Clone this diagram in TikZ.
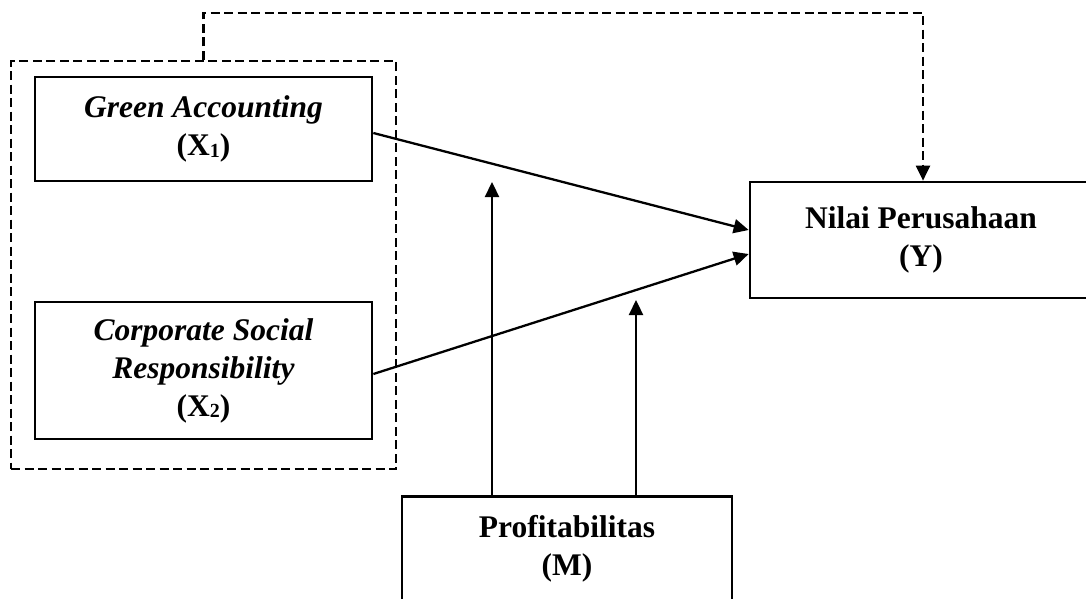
\documentclass[tikz,border=0pt]{standalone}
\usepackage{fontspec}
\setmainfont{Liberation Serif}
\usetikzlibrary{arrows.meta,calc}
\newcommand{\sbx}[1]{\raisebox{-1.5pt}{\fontsize{20}{20}\selectfont #1}}
\begin{document}
\begin{tikzpicture}[x=1pt,y=-1pt,
  box/.style={draw, line width=2.7pt, rectangle, align=center,
    font=\fontsize{31.5}{38}\selectfont\bfseries, inner sep=0pt},
  frame/.style={draw, line width=2.2pt, dash pattern=on 9pt off 4.5pt, rectangle, inner sep=0pt},
  arr/.style={line width=2.3pt, -{Triangle[length=15pt,width=14pt]}},
  dasharr/.style={line width=2.2pt, dash pattern=on 9pt off 4.5pt, -{Triangle[length=15pt,width=14pt]}}]
\useasboundingbox (0,0) rectangle (1086,598);
\fill[white] (0,0) rectangle (1086,598);
\clip (0,0) rectangle (1086,598);
\node[box, minimum width=337pt, minimum height=104pt] (X1) at (203.5,129)
  {\textit{Green Accounting}\\(X\sbx{1})};
\node[box, minimum width=337pt, minimum height=137pt] (X2) at (203.5,370.5)
  {\textit{Corporate Social}\\\textit{Responsibility}\\(X\sbx{2})};
\node[frame, minimum width=385pt, minimum height=408pt] (G) at (203.5,265) {};
\node[box, minimum width=342pt, minimum height=116pt] (Y) at (921,240)
  {Nilai Perusahaan\\(Y)};
\node[box, anchor=north, minimum width=330pt, inner ysep=18.5pt] (M) at (567,495)
  {Profitabilitas\\(M)\rule[-30pt]{0pt}{0pt}};
\coordinate (T) at (0,13);
\draw[dasharr] (G.north) -- (G.north |- T) -- ($(Y.north |- T)+(2,0)$) -- ($(Y.north)+(2,0)$);
\draw[arr] ($(X1.east)+(0,4)$) -- ($(Y.west)+(0,-10)$);
\draw[arr] ($(X2.east)+(0,3.5)$) -- ($(Y.west)+(0,14)$);
\coordinate (m1) at (492,182);
\coordinate (m2) at (636,300);
\draw[arr] (m1 |- M.north) -- (m1);
\draw[arr] (m2 |- M.north) -- (m2);
\end{tikzpicture}
\end{document}
